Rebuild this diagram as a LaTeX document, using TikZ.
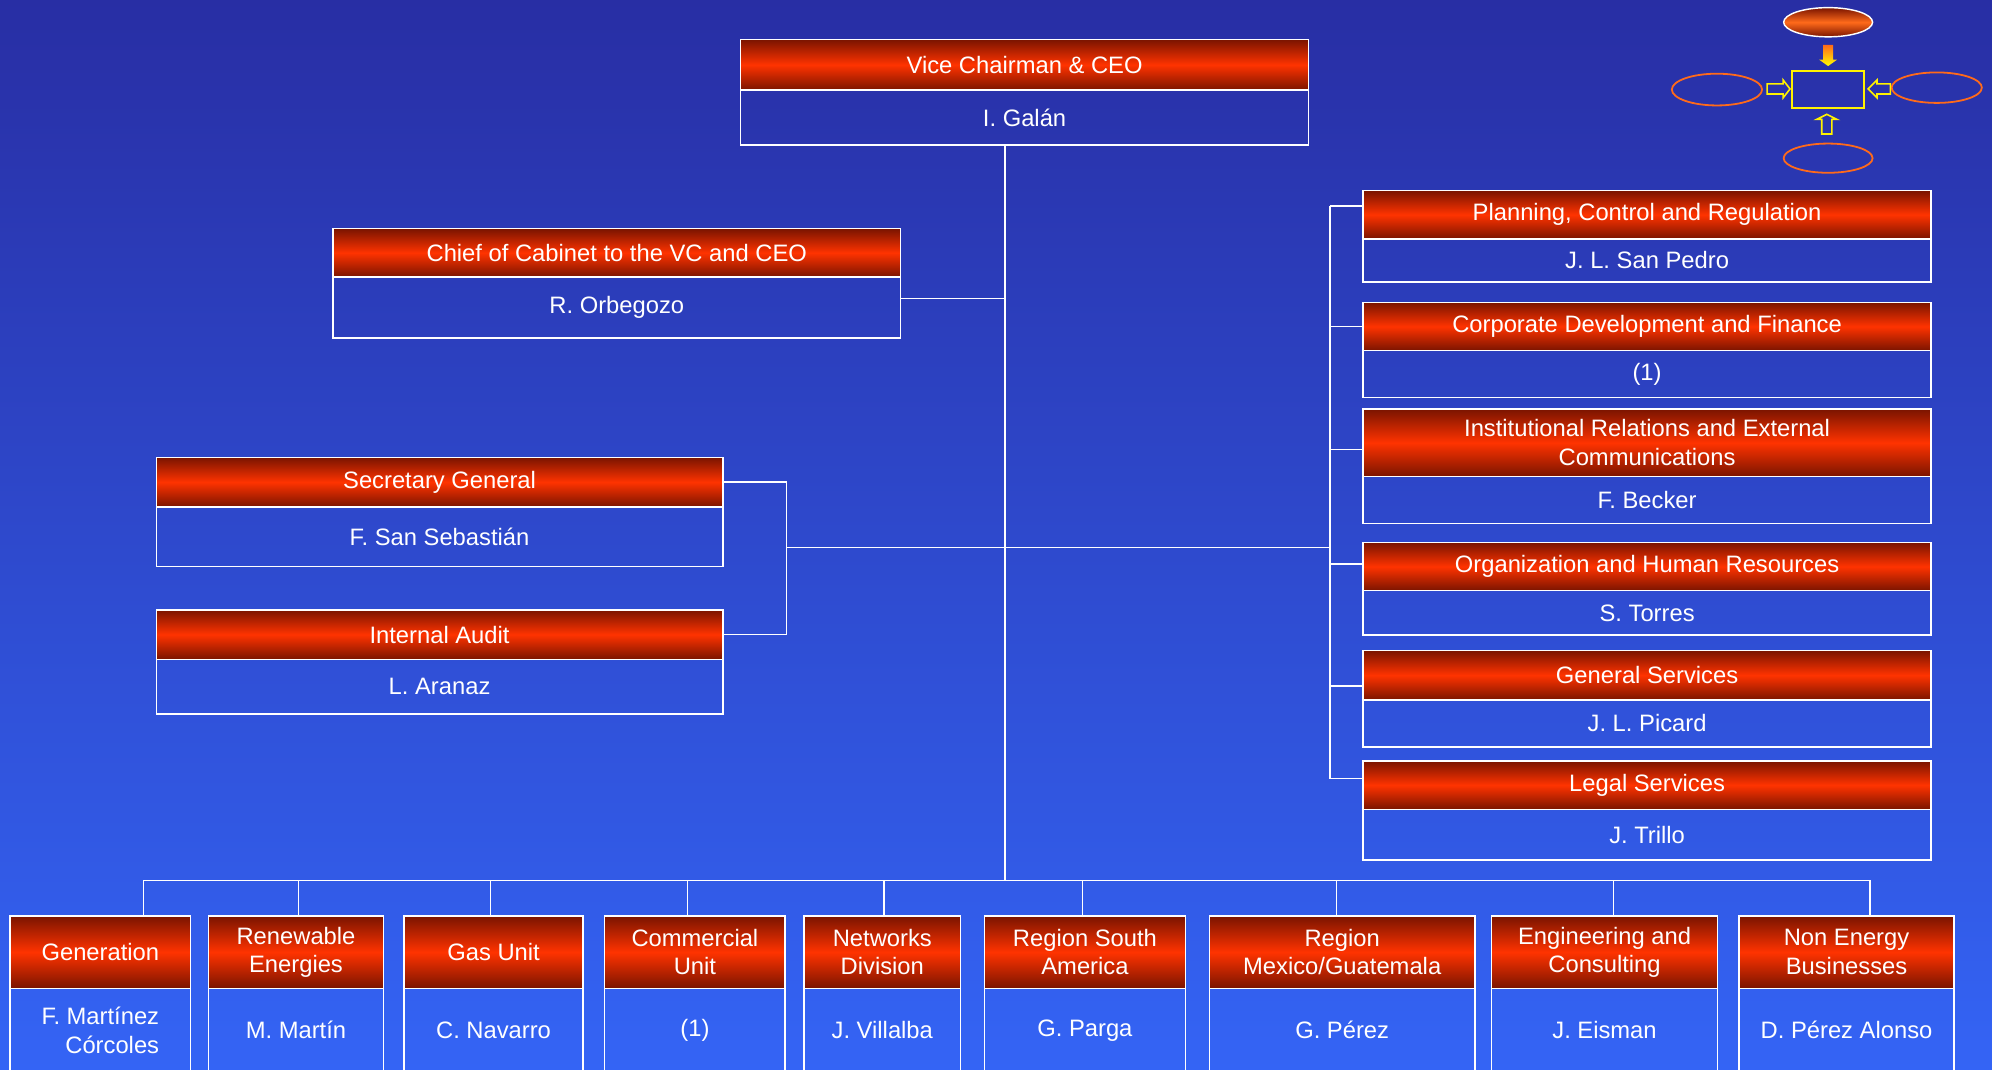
\documentclass[tikz,border=0pt]{standalone}
\usepackage{fontspec}
\setmainfont{Liberation Sans}
\usetikzlibrary{positioning}
\definecolor{bgtop}{RGB}{40,46,164}
\definecolor{bgbot}{RGB}{52,100,245}
\definecolor{hdark}{RGB}{122,20,0}
\definecolor{hred}{RGB}{255,51,0}
\definecolor{ring}{RGB}{255,106,26}
\newcommand{\px}{0.025cm}

\begin{document}
\begin{tikzpicture}[
  x=0.025cm, y=-0.025cm,
  font=\fontsize{13.3}{16}\selectfont,
  hd/.style={draw=white, line width=0.8pt, top color=hdark, bottom color=hdark,
    middle color=hred, text=white, align=center, inner sep=0pt, outer sep=0pt,
    anchor=north west},
  bd/.style={draw=white, line width=0.8pt, text=white, align=center,
    inner sep=0pt, outer sep=0pt, below=0pt of #1},
  ln/.style={white, line width=0.8pt},
  ring/.style={draw=ring, line width=1pt},
  blk/.style={draw=yellow, line width=0.9pt},
]
\useasboundingbox (0,0) rectangle (1568,842);
\shade[top color=bgtop, bottom color=bgbot] (0,0) rectangle (1568,842);
\clip (0,0) rectangle (1568,842);

\node[hd, minimum width=447*\px, minimum height=40*\px] (ceo) at (583,31) {Vice Chairman \& CEO};
\node[bd=ceo, minimum width=447*\px, minimum height=43*\px] (ceoN) {I. Galán};

\node[hd, minimum width=447*\px, minimum height=38*\px] (cab) at (262,180) {Chief of Cabinet to the VC and CEO};
\node[bd=cab, minimum width=447*\px, minimum height=48*\px] (cabN) {R. Orbegozo};

\node[hd, minimum width=446*\px, minimum height=39*\px] (sec) at (123,360) {Secretary General};
\node[bd=sec, minimum width=446*\px, minimum height=47*\px] (secN) {F. San Sebastián};

\node[hd, minimum width=446*\px, minimum height=39*\px] (aud) at (123,480) {Internal Audit};
\node[bd=aud, minimum width=446*\px, minimum height=43*\px] (audN) {L. Aranaz};

\node[hd, minimum width=447*\px, minimum height=38*\px] (plan) at (1073,150) {Planning, Control and Regulation};
\node[bd=plan, minimum width=447*\px, minimum height=34*\px] (planN) {J. L. San Pedro};

\node[hd, minimum width=447*\px, minimum height=38*\px] (corp) at (1073,238) {Corporate Development and Finance};
\node[bd=corp, minimum width=447*\px, minimum height=37*\px] (corpN) {(1)};

\node[hd, minimum width=447*\px, minimum height=53*\px] (inst) at (1073,322) {Institutional Relations and External\\Communications};
\node[bd=inst, minimum width=447*\px, minimum height=37*\px] (instN) {F. Becker};

\node[hd, minimum width=447*\px, minimum height=38*\px] (ohr) at (1073,427) {Organization and Human Resources};
\node[bd=ohr, minimum width=447*\px, minimum height=35*\px] (ohrN) {S. Torres};

\node[hd, minimum width=447*\px, minimum height=39*\px] (gs) at (1073,512) {General Services};
\node[bd=gs, minimum width=447*\px, minimum height=37*\px] (gsN) {J. L. Picard};

\node[hd, minimum width=447*\px, minimum height=38*\px] (legal) at (1073,599) {Legal Services};
\node[bd=legal, minimum width=447*\px, minimum height=40*\px] (legalN) {J. Trillo};

\node[hd, minimum width=142*\px, minimum height=57*\px] (gen) at (8,721) {Generation};
\node[bd=gen, minimum width=142*\px, minimum height=66*\px, align=right] (genN) {F. Martínez\\Córcoles};

\node[hd, minimum width=138*\px, minimum height=57*\px] (ren) at (164,721) {Renewable\\Energies};
\node[bd=ren, minimum width=138*\px, minimum height=66*\px] (renN) {M. Martín};

\node[hd, minimum width=141*\px, minimum height=57*\px] (gas) at (318,721) {Gas Unit};
\node[bd=gas, minimum width=141*\px, minimum height=66*\px] (gasN) {C. Navarro};

\node[hd, minimum width=142*\px, minimum height=57*\px] (com) at (476,721) {Commercial\\Unit};
\node[bd=com, minimum width=142*\px, minimum height=66*\px] (comN) {(1)};

\node[hd, minimum width=123*\px, minimum height=57*\px] (net) at (633,721) {Networks\\Division};
\node[bd=net, minimum width=123*\px, minimum height=66*\px] (netN) {J. Villalba};

\node[hd, minimum width=158*\px, minimum height=57*\px] (rsa) at (775,721) {Region South\\America};
\node[bd=rsa, minimum width=158*\px, minimum height=66*\px] (rsaN) {G. Parga};

\node[hd, minimum width=209*\px, minimum height=57*\px] (rmx) at (952,721) {Region\\Mexico/Guatemala};
\node[bd=rmx, minimum width=209*\px, minimum height=66*\px] (rmxN) {G. Pérez};

\node[hd, minimum width=178*\px, minimum height=57*\px] (eng) at (1174,721) {Engineering and\\Consulting};
\node[bd=eng, minimum width=178*\px, minimum height=66*\px] (engN) {J. Eisman};

\node[hd, minimum width=169*\px, minimum height=57*\px] (neb) at (1369,721) {Non Energy\\Businesses};
\node[bd=neb, minimum width=169*\px, minimum height=66*\px] (nebN) {D. Pérez Alonso};

\coordinate (spine) at (791,693);
\coordinate (brk) at (619,431);
\coordinate (rbar) at (1047,431);
\coordinate (busL) at (113,693);
\coordinate (busR) at (1472,693);

\draw[ln] (spine |- ceoN.south) -- (spine);
\draw[ln] ([yshift=7*\px]cabN.east) -- ([yshift=7*\px]cabN.east -| spine);
\draw[ln] (sec.east) -- (sec.east -| brk) -- (aud.east -| brk) -- (aud.east);
\draw[ln] (brk) -- (rbar);
\draw[ln] ([yshift=7*\px]rbar |- plan.west) -- ([yshift=5*\px]rbar |- legal.west);
\foreach \n/\s in {plan/7,corp/0,inst/-5.5,ohr/2,gs/-8.5,legal/5}
  \draw[ln] ([yshift=\s*\px]rbar |- \n.west) -- ([yshift=\s*\px]\n.west);
\draw[ln] (busL) -- (busR);
\foreach \n/\x in {gen/113,ren/235,gas/386,com/541,net/696,rsa/852,rmx/1052,eng/1270,neb/1472} {
  \coordinate (d) at (\x,693);
  \draw[ln] (d) -- (d |- \n.north);
}

\shade[top color=hdark, bottom color=hdark, middle color=ring, draw=white, line width=0.8pt]
  (1439,17.5) ellipse [x radius=35, y radius=11.5];
\draw[ring] (1351.5,70.5) ellipse [x radius=35.5, y radius=12.5];
\draw[ring] (1524.5,69) ellipse [x radius=35.5, y radius=12];
\draw[ring] (1439,124.5) ellipse [x radius=35, y radius=11.5];
\draw[blk] (1410.5,56) rectangle (1467,85);
\shade[top color=ring, bottom color=yellow]
  (1435,35.4) -- (1443,35.4) -- (1443,47) -- (1446,47) -- (1439,52) -- (1432,47) -- (1435,47) -- cycle;
\draw[blk] (1391,66) -- (1403.6,66) -- (1403.6,63) -- (1409,70) -- (1403.6,77) -- (1403.6,74) -- (1391,74) -- cycle;
\draw[blk] (1488,66) -- (1477.5,66) -- (1477.5,63) -- (1470.5,70) -- (1477.5,77) -- (1477.5,74) -- (1488,74) -- cycle;
\draw[blk] (1434,105.5) -- (1434,94) -- (1430,94) -- (1438,90) -- (1446,94) -- (1442,94) -- (1442,105.5) -- cycle;

\end{tikzpicture}
\end{document}
